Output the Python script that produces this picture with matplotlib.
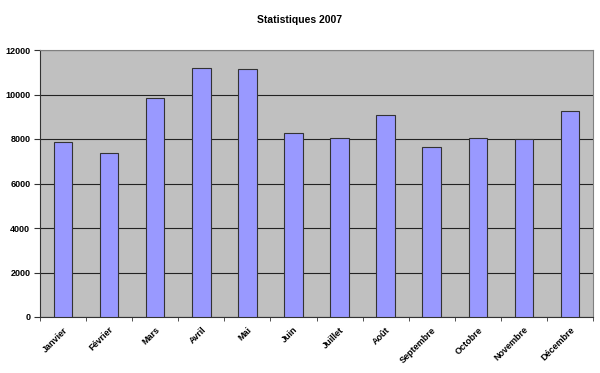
import matplotlib.pyplot as plt
import numpy as np

plt.rcParams['font.family'] = ['Liberation Sans', 'DejaVu Sans']

mois = ['Janvier', 'Février', 'Mars', 'Avril', 'Mai', 'Juin', 'Juillet',
        'Août', 'Septembre', 'Octobre', 'Novembre', 'Décembre']
valeurs = [7850, 7360, 9830, 11200, 11130, 8290, 8030,
           9080, 7640, 8030, 8000, 9260]
yticks = [0, 2000, 4000, 6000, 8000, 10000, 12000]

fig = plt.figure(figsize=(6, 3.73), dpi=100)
ax = fig.add_axes([40 / 600, 56 / 373, 553 / 600, 267 / 373])
ax.set_facecolor('#C0C0C0')

x = np.arange(len(mois))
ax.bar(x, valeurs, width=0.4, color='#9999FF', edgecolor='#333333',
       linewidth=0.8, zorder=3)

ax.set_xlim(-0.5, len(mois) - 0.5)
ax.set_ylim(0, 12000)
ax.set_yticks(yticks)
ax.set_yticklabels([str(v) for v in yticks], fontsize=6.5, fontweight='bold')
ax.yaxis.grid(True, color='#222222', linewidth=0.8, zorder=1)

ax.set_xticks(x)
ax.set_xticklabels(mois, rotation=45, ha='right', rotation_mode='anchor',
                   fontsize=6.5, fontweight='bold')
ax.tick_params(axis='x', length=0, pad=6)
ax.set_xticks(np.arange(-0.5, len(mois)), minor=True)
ax.tick_params(axis='x', which='minor', length=3, color='#333333')
ax.tick_params(axis='y', length=4, color='#333333', pad=3)

for s in ['top', 'right']:
    ax.spines[s].set_color('#808080')
    ax.spines[s].set_linewidth(0.8)
for s in ['left', 'bottom']:
    ax.spines[s].set_color('#333333')
    ax.spines[s].set_linewidth(0.8)

fig.text(0.5, 1 - 20 / 373, 'Statistiques 2007', ha='center', va='center',
         fontsize=7.5, fontweight='bold')

fig.savefig('out.png', dpi=100)
